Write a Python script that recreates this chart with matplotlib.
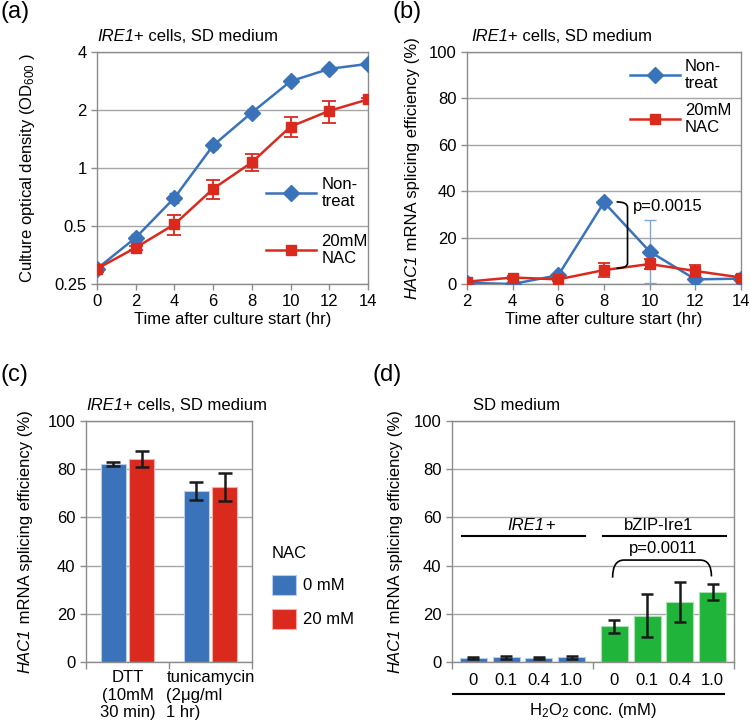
import matplotlib
matplotlib.use('Agg')
import matplotlib.pyplot as plt
import numpy as np
from matplotlib.path import Path
from matplotlib.patches import PathPatch
from matplotlib.lines import Line2D

plt.rcParams['font.family'] = ['Liberation Sans', 'DejaVu Sans']
plt.rcParams['mathtext.fontset'] = 'custom'
plt.rcParams['mathtext.rm'] = 'Liberation Sans'
plt.rcParams['mathtext.it'] = 'Liberation Sans:italic'
plt.rcParams['mathtext.default'] = 'regular'
plt.rcParams['font.size'] = 12

# ---------------- data ----------------
time_a = [0, 2, 4, 6, 8, 10, 12, 14]
od_nontreat = [0.30, 0.435, 0.70, 1.31, 1.94, 2.82, 3.27, 3.47]
od_nontreat_err = [0.01, 0.02, 0.04, 0.06, 0.08, 0.05, 0.05, 0.05]
od_nac = [0.30, 0.386, 0.51, 0.78, 1.07, 1.64, 1.98, 2.27]
od_nac_err = [0.01, 0.01, 0.06, 0.09, 0.11, 0.19, 0.26, 0.05]
od_ticks = [0.25, 0.5, 1, 2, 4]
od_ticklabels = ['0.25', '0.5', '1', '2', '4']

time_b = [2, 4, 6, 8, 10, 12, 14]
splice_nontreat = [0.5, 0.0, 3.8, 35.2, 14.0, 2.0, 2.3]
splice_nontreat_err = [0.3, 0.3, 0.5, 1.0, 13.6, 0.5, 0.5]
splice_nac = [1.0, 2.8, 2.0, 6.0, 8.6, 5.6, 2.8]
splice_nac_err = [0.5, 0.8, 0.8, 3.0, 2.0, 2.5, 1.0]

treatments = ['DTT\n(10mM\n30 min)', 'tunicamycin\n(2μg/ml\n1 hr)']
nac_0mM = [82.3, 70.9]
nac_0mM_err = [0.8, 3.6]
nac_20mM = [84.3, 72.6]
nac_20mM_err = [3.3, 6.0]

h2o2_labels = ['0', '0.1', '0.4', '1.0']
splice_ire1 = [1.8, 1.9, 1.8, 1.9]
splice_ire1_err = [0.4, 0.5, 0.4, 0.5]
splice_bzip = [14.8, 19.2, 24.7, 29.0]
splice_bzip_err = [2.8, 9.0, 8.3, 3.3]

BLUE = '#3a73b9'
RED = '#da2a1e'
GREEN = '#20b43a'
GRID = '#a6a6a6'
SPINE = '#8c8c8c'

W, H = 750, 727
fig = plt.figure(figsize=(7.5, 7.27), dpi=100)


def axes_px(l, r, t, b):
    return fig.add_axes([l / W, 1 - b / H, (r - l) / W, (b - t) / H])


def style(ax):
    for s in ax.spines.values():
        s.set_color(SPINE)
        s.set_linewidth(1.0)
    ax.tick_params(colors=SPINE, labelcolor='black', labelsize=12, length=4, width=1.0)
    ax.grid(axis='y', color=GRID, linewidth=1.0)
    ax.set_axisbelow(True)


def title(ax, x, y, italic, rest):
    t1 = ax.text(x, y, italic, transform=ax.transAxes, fontsize=12, ha='left', va='center',
                 style='italic')
    ax.annotate(rest, xy=(1, 0), xycoords=t1, fontsize=12, ha='left', va='bottom')
    return t1


ylabels = []


def ylabel2(ax, xr, italic, rest):
    ax.set_ylabel('')
    t1 = ax.text(xr, 0.3, italic, rotation=90, style='italic', ha='right', va='bottom',
                 transform=ax.transAxes, fontsize=12)
    t2 = ax.annotate(rest, xy=(1, 1), xycoords=t1, rotation=90, ha='right', va='bottom',
                     fontsize=12)
    ylabels.append((ax, t1, t2))

# ---------------- (a) ----------------
axa = axes_px(97, 368, 52, 284)
style(axa)
axa.set_yscale('log', base=2)
axa.errorbar(time_a, od_nontreat, yerr=od_nontreat_err, color=BLUE, lw=1.8, marker='D', ms=8,
             capsize=3.5, elinewidth=1.0, zorder=3)
axa.errorbar(time_a, od_nac, yerr=od_nac_err, color=RED, lw=1.8, marker='s', ms=7.5,
             capsize=4.7, elinewidth=1.3, capthick=1.3, zorder=3)
axa.set_ylim(0.25, 4)
axa.set_xlim(0, 14)
axa.set_yticks(od_ticks)
axa.set_yticklabels(od_ticklabels)
axa.yaxis.set_minor_locator(matplotlib.ticker.NullLocator())
axa.set_xticks(time_a)
axa.set_xlabel('Time after culture start (hr)', fontsize=12, labelpad=2)
axa.set_ylabel('Culture optical density (OD$_{600}$ )', fontsize=12)
axa.yaxis.set_label_coords(-0.222, 0.5)
title(axa, 0.0, 1.065, 'IRE1', '+ cells, SD medium')
h1 = Line2D([], [], color=BLUE, lw=1.8, marker='D', ms=8)
h2 = Line2D([], [], color=RED, lw=1.8, marker='s', ms=7.5)
axa.legend([h1, h2], ['Non-\ntreat', '20mM\nNAC'], loc='upper left', bbox_to_anchor=(0.6, 0.49),
           frameon=False, handlelength=3.0, labelspacing=1.45, fontsize=12, borderaxespad=0,
           handletextpad=0.3)

# ---------------- (b) ----------------
axb = axes_px(467, 741, 52, 284)
style(axb)
axb.errorbar(time_b, splice_nontreat, yerr=splice_nontreat_err, color=BLUE, lw=1.8, marker='D', ms=8,
             capsize=4.5, elinewidth=1.0, zorder=3, ecolor='#7fa6d6')
axb.errorbar(time_b, splice_nac, yerr=splice_nac_err, color=RED, lw=1.8, marker='s', ms=7.5,
             capsize=4.5, elinewidth=1.3, capthick=1.3, zorder=4)
axb.set_ylim(0, 100)
axb.set_xlim(2, 14)
axb.set_yticks([0, 20, 40, 60, 80, 100])
axb.set_xticks(time_b)
axb.set_xlabel('Time after culture start (hr)', fontsize=12, labelpad=2)
ylabel2(axb, -0.172, 'HAC1', ' mRNA splicing efficiency (%)')
title(axb, 0.015, 1.065, 'IRE1', '+ cells, SD medium')
axb.legend([h1, h2], ['Non-\ntreat', '20mM\nNAC'], loc='upper left', bbox_to_anchor=(0.57, 1.0),
           frameon=False, handlelength=3.0, labelspacing=0.7, fontsize=12, borderaxespad=0,
           handletextpad=0.3)
verts = [(8.55, 35.4), (9.03, 35.4), (9.03, 33.0), (9.03, 9.0), (9.03, 6.8), (8.55, 6.8)]
codes = [Path.MOVETO, Path.CURVE3, Path.CURVE3, Path.LINETO, Path.CURVE3, Path.CURVE3]
axb.add_patch(PathPatch(Path(verts, codes), fill=False, lw=1.2, color='black', zorder=5))
axb.text(9.25, 33.5, 'p=0.0015', fontsize=12, ha='left', va='center', zorder=5)

# ---------------- (c) ----------------
axc = axes_px(86, 252, 421, 662)
style(axc)
xc = np.arange(len(treatments)) + 0.5
bw = 0.30
ekc = dict(elinewidth=1.8, capthick=1.8, ecolor='#1a1a1a')
axc.bar(xc - 0.17, nac_0mM, bw, yerr=nac_0mM_err, color=BLUE, edgecolor='#b9cde8', lw=0.8,
        capsize=4.8, error_kw=ekc, label='0 mM')
axc.bar(xc + 0.17, nac_20mM, bw, yerr=nac_20mM_err, color=RED, edgecolor='#f0b0aa', lw=0.8,
        capsize=4.8, error_kw=ekc, label='20 mM')
axc.set_xlim(0, 2)
axc.set_ylim(0, 100)
axc.set_yticks([0, 20, 40, 60, 80, 100])
axc.set_xticks([0, 1, 2])
axc.set_xticklabels([])
axc.tick_params(axis='x', length=5)
axc.set_xticks(xc, minor=True)
axc.tick_params(axis='x', which='minor', length=0, pad=6)
axc.set_xticklabels(treatments, minor=True)
for lab, ma in zip(axc.get_xticklabels(minor=True), ['center', 'left']):
    lab.set_multialignment(ma)
ylabel2(axc, -0.32, 'HAC1', ' mRNA splicing efficiency (%)')
title(axc, 0.0, 1.065, 'IRE1', '+ cells, SD medium')
leg = axc.legend(title='NAC', loc='upper left', bbox_to_anchor=(1.08, 0.51), frameon=False,
                 fontsize=12, title_fontsize=12, handlelength=1.45, handleheight=1.45,
                 labelspacing=0.85, borderaxespad=0, handletextpad=0.4)
leg._legend_box.align = 'left'

# ---------------- (d) ----------------
axd = axes_px(452, 734, 421, 662)
style(axd)
offs = np.array([-1.5, -0.5, 0.5, 1.5]) * 0.232
bwd = 0.19
ek = dict(elinewidth=1.8, capthick=1.8, ecolor='#1a1a1a')
axd.bar(0 + offs, splice_ire1, bwd, yerr=splice_ire1_err, color=BLUE, edgecolor='#b9cde8', lw=0.8,
        capsize=4.5, error_kw=ek)
axd.bar(1 + offs, splice_bzip, bwd, yerr=splice_bzip_err, color=GREEN, edgecolor='#a8e0b2', lw=0.8,
        capsize=4.5, error_kw=ek)
axd.set_xlim(-0.5, 1.5)
axd.set_ylim(0, 100)
axd.set_yticks([0, 20, 40, 60, 80, 100])
axd.set_xticks([-0.5, 0.5, 1.5])
axd.set_xticklabels([])
axd.tick_params(axis='x', length=5)
axd.set_xticks(np.concatenate([0 + offs, 1 + offs]), minor=True)
axd.set_xticklabels(h2o2_labels + h2o2_labels, minor=True)
axd.tick_params(axis='x', which='minor', length=0, pad=8)
ylabel2(axd, -0.174, 'HAC1', ' mRNA splicing efficiency (%)')
axd.text(0.075, 1.065, 'SD medium', transform=axd.transAxes, fontsize=12, ha='left', va='center')
# group lines
axd.plot([-0.429, 0.443], [52.4, 52.4], color='black', lw=1.5)
axd.plot([0.573, 1.446], [52.4, 52.4], color='black', lw=1.5)
ti = axd.text(0.158, 56.8, 'IRE1', ha='right', va='center', fontsize=12, style='italic')
axd.annotate('+', xy=(1, 0), xycoords=ti, ha='left', va='bottom', fontsize=12)
axd.text(0.967, 56.8, 'bZIP-Ire1', ha='center', va='center', fontsize=12)
axd.text(1.0, 46.9, 'p=0.0011', ha='center', va='center', fontsize=12)
verts = [(0.639, 35.0), (0.639, 42.3), (0.72, 42.3), (1.26, 42.3), (1.340, 42.3), (1.340, 35.5)]
codes = [Path.MOVETO, Path.CURVE3, Path.CURVE3, Path.LINETO, Path.CURVE3, Path.CURVE3]
axd.add_patch(PathPatch(Path(verts, codes), fill=False, lw=1.2, color='black'))
axd.plot([0.0035, 0.965], [-0.133, -0.133], transform=axd.transAxes, color='black', lw=1.5,
         clip_on=False)
axd.text(0.5, -0.2, 'H$_2$O$_2$ conc. (mM)', transform=axd.transAxes, ha='center', va='center',
         fontsize=12)

# panel labels
for x, y, s in [(1, 12, '(a)'), (393, 12, '(b)'), (1, 375, '(c)'), (372, 375, '(d)')]:
    fig.text(x / W, 1 - y / H, s, fontsize=17, ha='left', va='center')

# center composite y labels vertically on their axes
fig.canvas.draw()
for ax, t1, t2 in ylabels:
    b1 = t1.get_window_extent()
    b2 = t2.get_window_extent()
    center = (b1.y0 + b2.y1) / 2
    axbox = ax.get_window_extent()
    target = (axbox.y0 + axbox.y1) / 2
    x, y = t1.get_position()
    t1.set_position((x, y + (target - center) / axbox.height))

fig.savefig('out.png', dpi=100)
